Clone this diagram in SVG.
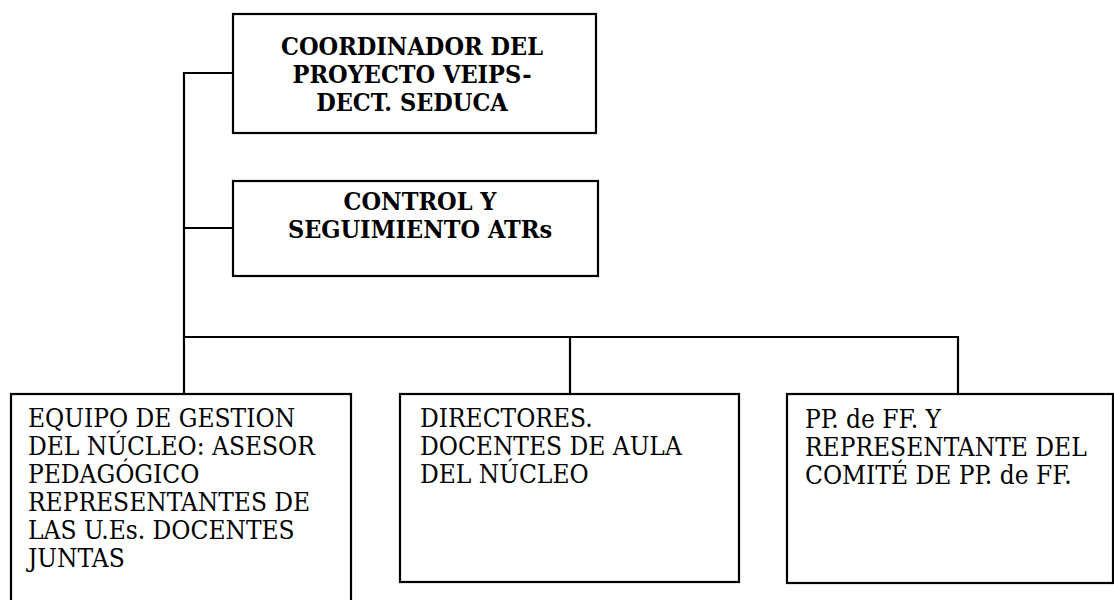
<svg xmlns="http://www.w3.org/2000/svg" width="1114" height="600" viewBox="0 0 1114 600">
<style>
.box{fill:#fff;stroke:#000;stroke-width:2.2}
.line{fill:none;stroke:#000;stroke-width:2.2}
.b{font-family:'DejaVu Serif Condensed','DejaVu Serif',serif;font-stretch:condensed;font-weight:bold;font-size:25px;fill:#000;text-anchor:middle}
.r{font-family:'DejaVu Serif Condensed','DejaVu Serif',serif;font-stretch:condensed;font-size:26px;fill:#000}
</style>
<rect width="1114" height="600" fill="#fff"/>
<g id="connectors">
<polyline class="line" points="233,73 184,73 184,337 958,337 958,394"/>
<line class="line" x1="184" y1="228" x2="233" y2="228"/>
<line class="line" x1="184" y1="337" x2="184" y2="394"/>
<line class="line" x1="570" y1="337" x2="570" y2="394"/>
</g>
<g id="coordinador">
<rect class="box" x="233" y="14" width="363" height="119"/>
<text class="b" x="412" y="55">COORDINADOR DEL</text>
<text class="b" x="412" y="83">PROYECTO VEIPS-</text>
<text class="b" x="412" y="111">DECT. SEDUCA</text>
</g>
<g id="control">
<rect class="box" x="233" y="181" width="365" height="95"/>
<text class="b" x="420" y="210">CONTROL Y</text>
<text class="b" x="420" y="238">SEGUIMIENTO ATRs</text>
</g>
<g id="equipo">
<rect class="box" x="11" y="394" width="340" height="210"/>
<text class="r" x="28" y="427">EQUIPO DE GESTION</text>
<text class="r" x="28" y="455">DEL NÚCLEO: ASESOR</text>
<text class="r" x="28" y="483">PEDAGÓGICO</text>
<text class="r" x="28" y="511">REPRESENTANTES DE</text>
<text class="r" x="28" y="539">LAS U.Es. DOCENTES</text>
<text class="r" x="28" y="567">JUNTAS</text>
</g>
<g id="directores">
<rect class="box" x="400" y="394" width="339" height="188"/>
<text class="r" x="420" y="427">DIRECTORES.</text>
<text class="r" x="420" y="455">DOCENTES DE AULA</text>
<text class="r" x="420" y="483">DEL NÚCLEO</text>
</g>
<g id="padres">
<rect class="box" x="787" y="394" width="326" height="189"/>
<text class="r" x="805" y="428">PP. de FF. Y</text>
<text class="r" x="805" y="456">REPRESENTANTE DEL</text>
<text class="r" x="805" y="484">COMITÉ DE PP. de FF.</text>
</g>
</svg>
